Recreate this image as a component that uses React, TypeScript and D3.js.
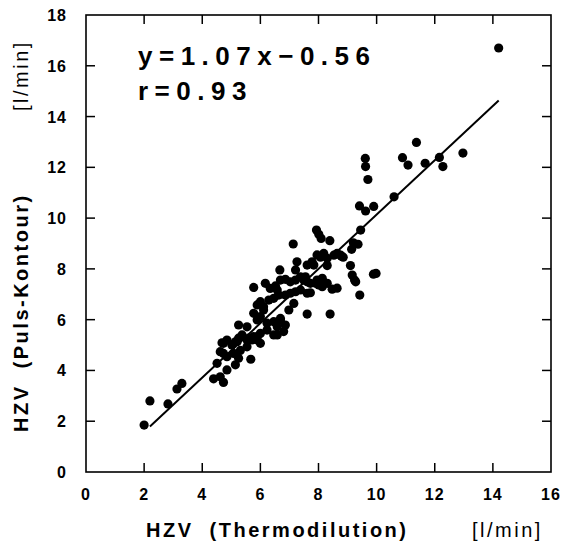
import React from "react";
import * as d3 from "d3";

const xTicks = [0, 2, 4, 6, 8, 10, 12, 14, 16];
const yTicks = [0, 2, 4, 6, 8, 10, 12, 14, 16, 18];
const equationText = "y=1.07x\u22120.56";
const rText = "r=0.93";
const regSlope = 1.07;
const regIntercept = -0.56;
const regRange = [2.2, 14.2];

const thermo = [
  2.0, 2.2, 2.82, 3.13, 3.3,
  4.39, 4.62, 4.73, 4.51, 4.85, 5.14, 5.25, 5.67, 4.73, 4.85, 5.08, 5.31, 4.62, 4.73, 4.85, 5.02, 5.14, 5.25, 5.37, 5.54, 5.71, 5.89, 6.0, 5.54, 4.68, 5.2, 5.6, 5.77, 5.89, 6.0,
  5.25, 5.54, 5.77, 5.89, 6.0, 6.11, 6.23, 6.46, 6.69, 6.86, 6.58, 6.8, 6.23, 6.46, 6.58, 6.69, 6.98, 7.15,
  5.98, 6.11, 6.29, 6.46, 6.63, 6.86, 7.03, 7.21, 7.38, 6.0, 5.89,
  5.77, 6.17, 6.34, 6.52, 6.58, 6.69, 6.86, 7.03, 7.21, 7.38, 7.55, 7.72, 7.95, 8.13, 8.3, 7.49, 7.61, 7.9, 8.01, 8.13,
  7.61, 8.4, 7.61, 7.72, 8.47, 8.64, 9.42,
  6.67, 7.21, 7.26, 7.61, 7.78, 7.95, 8.18, 8.3, 8.53, 8.76, 8.85, 7.84, 8.3, 9.1, 8.07,
  9.16, 9.24, 9.28, 9.89, 9.98,
  7.13, 7.93, 8.01, 8.09, 8.39, 8.64, 8.79, 9.2, 9.36, 9.14, 9.45,
  9.41, 9.62, 9.9, 10.6, 9.7, 9.61, 9.62, 10.89, 11.08, 11.37, 11.67, 12.16, 12.28, 12.97, 14.2,
];
const pulse = [
  1.85, 2.8, 2.68, 3.27, 3.49,
  3.67, 3.75, 3.53, 4.28, 4.02, 4.22, 4.48, 4.44, 4.67, 4.54, 4.67, 4.79, 4.74, 5.07, 5.2, 5.0, 5.13, 5.27, 5.4, 5.2, 5.2, 5.33, 5.46, 4.93, 5.09, 5.13, 5.27, 5.33, 5.2, 5.07,
  5.79, 5.72, 6.25, 5.99, 6.12, 6.38, 5.86, 5.92, 5.99, 5.79, 5.4, 5.53, 5.59, 5.4, 5.72, 6.05, 6.38, 6.64,
  6.64, 6.51, 6.77, 6.84, 6.97, 6.97, 7.04, 7.1, 7.17, 6.71, 6.58,
  7.27, 7.43, 7.23, 7.33, 7.17, 7.56, 7.59, 7.49, 7.56, 7.69, 7.69, 7.43, 7.56, 7.63, 7.43, 7.56, 7.49, 7.43, 7.37, 7.3,
  6.22, 6.22, 7.04, 7.06, 7.2, 7.24, 6.97,
  7.96, 7.96, 8.28, 8.15, 8.28, 8.55, 8.61, 8.42, 8.54, 8.54, 8.46, 8.15, 8.13, 8.13, 8.46,
  7.76, 7.56, 7.49, 7.79, 7.82,
  8.98, 9.53, 9.36, 9.2, 9.11, 8.61, 8.5, 9.03, 8.97, 8.77, 9.53,
  10.48, 10.28, 10.46, 10.84, 11.52, 12.35, 12.03, 12.38, 12.09, 12.98, 12.16, 12.39, 12.03, 12.56, 16.7,
];

const W = 561;
const H = 549;
const left = 86;
const right = 551;
const top = 15;
const bottom = 472;
const tickLen = 9;
const font = "'Liberation Sans', Arial, Helvetica, sans-serif";

export default function App() {
  const x = d3.scaleLinear().domain([0, 16]).range([left, right]);
  const y = d3.scaleLinear().domain([0, 18]).range([bottom, top]);
  const line = d3
    .line<number>()
    .x((d) => x(d))
    .y((d) => y(regSlope * d + regIntercept));
  const innerX = xTicks.filter((t) => t > 0 && t < 16);
  const innerY = yTicks.filter((t) => t > 0 && t < 18);
  return (
    <svg
      width={W}
      height={H}
      style={{ position: "absolute", left: 0, top: 0, background: "#fff" }}
      fontFamily={font}
    >
      <rect x={left} y={top} width={right - left} height={bottom - top} fill="none" stroke="#000" strokeWidth={1.6} />
      {innerX.map((t) => (
        <g key={"xt" + t}>
          <line x1={x(t)} x2={x(t)} y1={bottom} y2={bottom - tickLen} stroke="#000" strokeWidth={1.5} />
          <line x1={x(t)} x2={x(t)} y1={top} y2={top + tickLen} stroke="#000" strokeWidth={1.5} />
        </g>
      ))}
      {innerY.map((t) => (
        <g key={"yt" + t}>
          <line x1={left} x2={left + tickLen} y1={y(t)} y2={y(t)} stroke="#000" strokeWidth={1.5} />
          <line x1={right} x2={right - tickLen} y1={y(t)} y2={y(t)} stroke="#000" strokeWidth={1.5} />
        </g>
      ))}
      {xTicks.map((t) => (
        <text key={"xl" + t} x={x(t)} y={500} textAnchor="middle" fontSize={16} fontWeight="bold" letterSpacing={1}>
          {t}
        </text>
      ))}
      {yTicks.map((t) => (
        <text key={"yl" + t} x={67} y={y(t) + 6} textAnchor="end" fontSize={16} fontWeight="bold" letterSpacing={1}>
          {t}
        </text>
      ))}
      <path d={line(regRange) || ""} fill="none" stroke="#000" strokeWidth={2} />
      {thermo.map((v, i) => (
        <circle key={"p" + i} cx={x(v)} cy={y(pulse[i])} r={4.6} fill="#000" />
      ))}
      <text x={138} y={65} fontSize={26} fontWeight="bold" letterSpacing={6.5}>
        {equationText}
      </text>
      <text x={138} y={100} fontSize={26} fontWeight="bold" letterSpacing={6.5}>
        {rText}
      </text>
      <text x={146} y={537} fontSize={20} fontWeight="bold" letterSpacing={2.5}>
        {"HZV\u00a0\u00a0(Thermodilution)"}
      </text>
      <text x={472} y={537} fontSize={20} letterSpacing={2.5}>
        [l/min]
      </text>
      <text transform="translate(28,432) rotate(-90)" fontSize={20} fontWeight="bold" letterSpacing={2.5}>
        {"HZV\u00a0\u00a0(Puls-Kontour)"}
      </text>
      <text transform="translate(28,111) rotate(-90)" fontSize={20} letterSpacing={2.5}>
        [l/min]
      </text>
    </svg>
  );
}
